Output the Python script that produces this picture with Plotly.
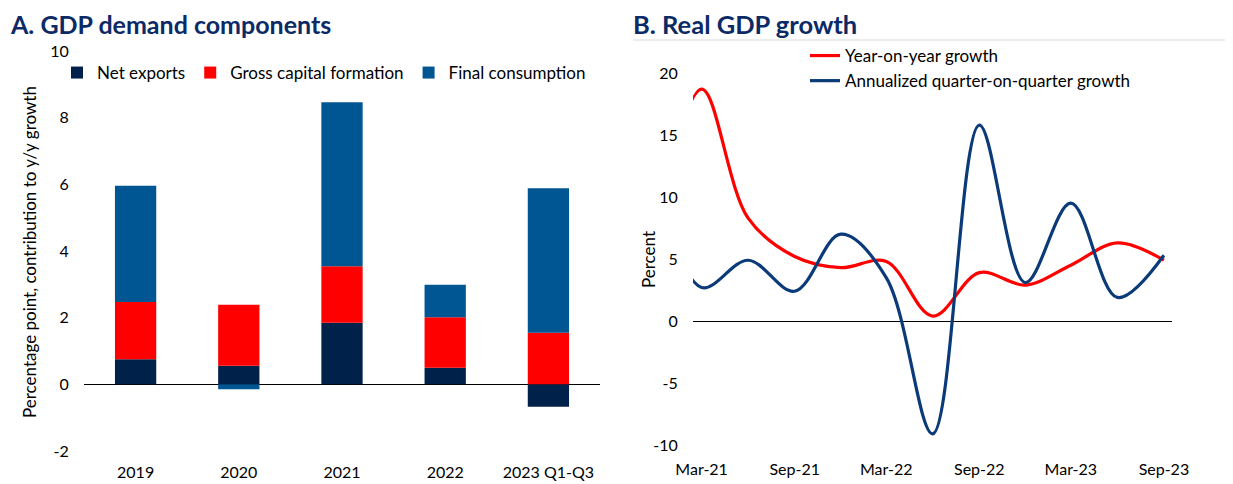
import plotly.graph_objects as go

# Panel A: GDP demand components (pp contribution to y/y growth)
years = ["2019", "2020", "2021", "2022", "2023 Q1-Q3"]
net_exports = [0.75, 0.56, 1.85, 0.50, -0.67]
gross_capital = [1.72, 1.83, 1.69, 1.51, 1.55]
final_consumption = [3.49, -0.15, 4.92, 0.98, 4.33]
a_ticks = [-2, 0, 2, 4, 6, 8, 10]

# Panel B: Real GDP growth (quarterly, first point sits off the left edge)
quarters = ["2020-12-01", "2021-03-01", "2021-06-01", "2021-09-01", "2021-12-01",
            "2022-03-01", "2022-06-01", "2022-09-01", "2022-12-01", "2023-03-01",
            "2023-06-01", "2023-09-01"]
yoy_growth = [6.5, 18.7, 8.3, 5.2, 4.3, 4.8, 0.4, 3.9, 2.9, 4.5, 6.3, 4.9]
qoq_saar = [11.0, 2.7, 4.9, 2.4, 7.0, 3.5, -9.1, 15.8, 3.1, 9.5, 1.9, 5.3]
b_ticks = [-10, -5, 0, 5, 10, 15, 20]

# page body has an 8px margin, so the figure is drawn 8px in from the window edge
OFF = 8
W, H = 1233 - OFF, 484 - OFF
FONT = "Lato"
NAVY = "#0B2A66"

def px_x(p):
    return (p - OFF) / W

def px_y(p):
    return 1 - (p - OFF) / H

fig = go.Figure()

fig.add_trace(go.Bar(x=years, y=net_exports, name="Net exports",
                     marker=dict(color="#00214A", line_width=0), width=0.4,
                     legend="legend"))
fig.add_trace(go.Bar(x=years, y=gross_capital, name="Gross capital formation",
                     marker=dict(color="#FF0000", line_width=0), width=0.4,
                     legend="legend"))
fig.add_trace(go.Bar(x=years, y=final_consumption, name="Final consumption",
                     marker=dict(color="#005593", line_width=0), width=0.4,
                     legend="legend"))

fig.add_trace(go.Scatter(x=quarters, y=yoy_growth, name="Year-on-year growth",
                         mode="lines", line=dict(color="#FF0000", width=3.2, shape="spline", smoothing=1),
                         xaxis="x2", yaxis="y2", legend="legend2"))
fig.add_trace(go.Scatter(x=quarters, y=qoq_saar, name="Annualized quarter-on-quarter growth",
                         mode="lines", line=dict(color="#0A3A78", width=3.2, shape="spline", smoothing=1),
                         xaxis="x2", yaxis="y2", legend="legend2"))

tick_font = dict(family=FONT, size=16, color="#000000")
leg_font = dict(family=FONT, size=17, color="#000000")

fig.update_layout(
    width=W, height=H,
    margin=dict(l=0, r=0, t=0, b=0, autoexpand=False),
    paper_bgcolor="white", plot_bgcolor="white",
    barmode="relative", bargap=0.6,
    font=dict(family=FONT, size=16, color="#000000"),
    xaxis=dict(domain=[px_x(84), px_x(600)], showgrid=False, showline=False,
               ticks="outside", ticklen=7, tickcolor="rgba(0,0,0,0)",
               tickfont=tick_font, anchor="y", automargin=False),
    yaxis=dict(domain=[px_y(451), px_y(51)], range=[-2, 10],
               tickvals=a_ticks, ticktext=[str(v) for v in a_ticks],
               showgrid=False, showline=False, zeroline=True,
               zerolinecolor="#000000", zerolinewidth=1,
               ticks="outside", ticklen=11, tickcolor="rgba(0,0,0,0)",
               tickfont=tick_font, anchor="x", automargin=False),
    xaxis2=dict(domain=[px_x(693), px_x(1172)], type="date",
                range=["2021-02-12", "2023-09-17"],
                tick0="2021-03-01", dtick="M6", tickformat="%b-%y",
                showgrid=False, showline=False,
                ticks="outside", ticklen=10, tickcolor="rgba(0,0,0,0)",
                tickfont=tick_font, anchor="y2", automargin=False),
    yaxis2=dict(domain=[px_y(445), px_y(73)], range=[-10, 20],
                tickvals=b_ticks, ticktext=[str(v) for v in b_ticks],
                showgrid=False, showline=False, zeroline=True,
                zerolinecolor="#000000", zerolinewidth=1,
                ticks="outside", ticklen=11, tickcolor="rgba(0,0,0,0)",
                tickfont=tick_font, anchor="x2", automargin=False),
    legend=dict(orientation="h", x=px_x(57), y=px_y(73), xanchor="left", yanchor="middle",
                traceorder="normal", font=leg_font,
                bgcolor="rgba(0,0,0,0)", itemwidth=30),
    legend2=dict(orientation="v", x=px_x(805), y=px_y(38), xanchor="left", yanchor="top",
                 traceorder="normal", font=leg_font,
                 bgcolor="rgba(0,0,0,0)", tracegroupgap=0, itemwidth=30),
    annotations=[
        dict(text="<b>A. GDP demand components</b>", x=px_x(8), y=px_y(24),
             xref="paper", yref="paper", xanchor="left", yanchor="middle",
             showarrow=False, font=dict(family=FONT, size=25, color=NAVY)),
        dict(text="<b>B. Real GDP growth</b>", x=px_x(631), y=px_y(24),
             xref="paper", yref="paper", xanchor="left", yanchor="middle",
             showarrow=False, font=dict(family=FONT, size=25.5, color=NAVY)),
        dict(text="Percentage point, contribution to y/y growth", textangle=-90,
             x=px_x(30), y=px_y(252), xref="paper", yref="paper",
             xanchor="center", yanchor="middle", showarrow=False,
             font=dict(family=FONT, size=17, color="#000000")),
        dict(text="Percent", textangle=-90,
             x=px_x(648), y=px_y(260), xref="paper", yref="paper",
             xanchor="center", yanchor="middle", showarrow=False,
             font=dict(family=FONT, size=17, color="#000000")),
    ],
    shapes=[
        dict(type="line", xref="paper", yref="paper", x0=px_x(633), x1=1,
             y0=px_y(40), y1=px_y(40), line=dict(color="#D9D9D9", width=1)),
    ],
)

fig.write_html("out.html")
